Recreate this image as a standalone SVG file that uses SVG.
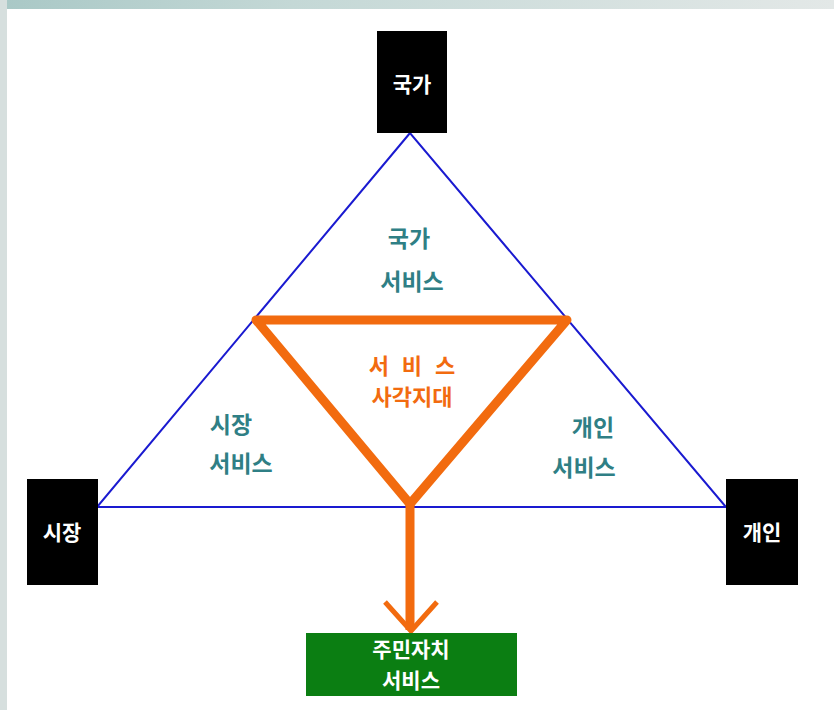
<svg xmlns="http://www.w3.org/2000/svg" width="834" height="710" viewBox="0 0 834 710">
<defs>
<style>
.k{font-family:"Noto Sans CJK KR","Noto Sans",sans-serif;font-weight:bold;text-anchor:middle}
.bx{fill:#000}
.wt{fill:#fff;font-size:21px}
.tl{fill:#2f7f85;font-size:23px}
.or{fill:#f26b0f;font-size:22px}
.gt{fill:#fff;font-size:21px}
</style>
<linearGradient id="tg" x1="0" y1="0" x2="1" y2="0">
<stop offset="0" stop-color="#a9c8c6"/>
<stop offset="0.35" stop-color="#c4d8d6"/>
<stop offset="1" stop-color="#e3e8e7"/>
</linearGradient>
</defs>
<rect width="834" height="710" fill="#e6eae9"/>
<rect width="834" height="10" fill="url(#tg)"/>
<rect x="0" y="0" width="7" height="710" fill="#d6dfde"/>
<rect x="7" y="9" width="827" height="701" fill="#fff"/>
<g id="connectors">
<polygon points="410,133 97,507 726,507" fill="none" stroke="#1a1ad0" stroke-width="2"/>
<polygon points="256,320 567,320 410,504" fill="none" stroke="#f26b0f" stroke-width="9" stroke-linejoin="round"/>
<line x1="410" y1="504" x2="410" y2="630" stroke="#f26b0f" stroke-width="9"/>
<polyline points="385,602 411,631 437,602" fill="none" stroke="#f26b0f" stroke-width="5"/>
</g>
<g id="node-state">
<rect class="bx" x="377" y="31" width="70" height="102"/>
<text class="k wt" x="412" y="92">국가</text>
</g>
<g id="node-market">
<rect class="bx" x="27" y="479" width="71" height="106"/>
<text class="k wt" x="62" y="540">시장</text>
</g>
<g id="node-individual">
<rect class="bx" x="726" y="479" width="72" height="106"/>
<text class="k wt" x="762" y="540">개인</text>
</g>
<g id="label-state-service">
<text class="k tl" x="409" y="247">국가</text>
<text class="k tl" x="412" y="290">서비스</text>
</g>
<g id="label-market-service">
<text class="k tl" x="231" y="433">시장</text>
<text class="k tl" x="241" y="472">서비스</text>
</g>
<g id="label-individual-service">
<text class="k tl" x="593" y="436">개인</text>
<text class="k tl" x="584" y="476">서비스</text>
</g>
<g id="label-blind-spot">
<text class="k or" x="412" y="374" word-spacing="8">서 비 스</text>
<text class="k or" x="412" y="405">사각지대</text>
</g>
<g id="node-resident">
<rect x="306" y="633" width="211" height="63" fill="#0b7e12"/>
<text class="k gt" x="411" y="657">주민자치</text>
<text class="k gt" x="411" y="688">서비스</text>
</g>
</svg>
